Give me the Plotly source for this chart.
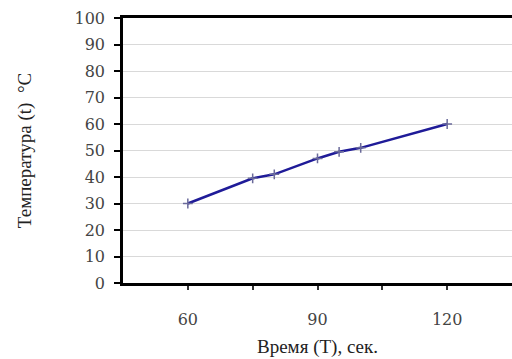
import plotly.graph_objects as go

time_s = [60, 75, 80, 90, 95, 100, 120]
temp_c = [30, 39.5, 41, 47, 49.5, 51, 60]

x_tick_vals = [60, 75, 90, 105, 120]
x_tick_text = ["60", "", "90", "", "120"]
y_tick_vals = [0, 10, 20, 30, 40, 50, 60, 70, 80, 90, 100]

tick_font = dict(family="DejaVu Serif, serif", size=16, color="#444444")
title_font = dict(family="Liberation Serif, serif", size=19, color="#222222")

fig = go.Figure()
fig.add_trace(go.Scatter(
    x=time_s, y=temp_c, mode="lines+markers",
    line=dict(color="#1f1b98", width=2.5),
    marker=dict(symbol="cross-thin", size=7, color="#6a6a9a",
                line=dict(color="#6a6a9a", width=1.5)),
    showlegend=False,
))

fig.update_layout(
    width=512, height=359,
    margin=dict(l=123, r=0, t=18, b=76),
    paper_bgcolor="white", plot_bgcolor="white",
    xaxis=dict(
        range=[45, 135], tickvals=x_tick_vals, ticktext=x_tick_text,
        showgrid=False, zeroline=False,
        showline=True, linecolor="black", linewidth=2.5, mirror=True,
        ticks="outside", ticklen=4, tickwidth=1.5, tickcolor="#333333",
        ticklabelstandoff=16, tickfont=tick_font,
        title=dict(text="Время (Т), сек.", font=title_font, standoff=12),
    ),
    yaxis=dict(
        range=[0, 100], tickvals=y_tick_vals,
        showgrid=True, gridcolor="#d9d9d9", gridwidth=1, zeroline=False,
        showline=True, linecolor="black", linewidth=2.5,
        ticks="outside", ticklen=6, tickwidth=1.5, tickcolor="black",
        ticklabelstandoff=6, tickfont=tick_font,
        title=dict(text="Температура (t)  °C", font=title_font, standoff=38),
    ),
)

fig.write_html(
    "out.html",
    config={"displayModeBar": False},
    post_script=(
        "document.body.style.margin='0';"
        "document.body.style.overflow='hidden';"
        "document.documentElement.style.overflow='hidden';"
    ),
)
